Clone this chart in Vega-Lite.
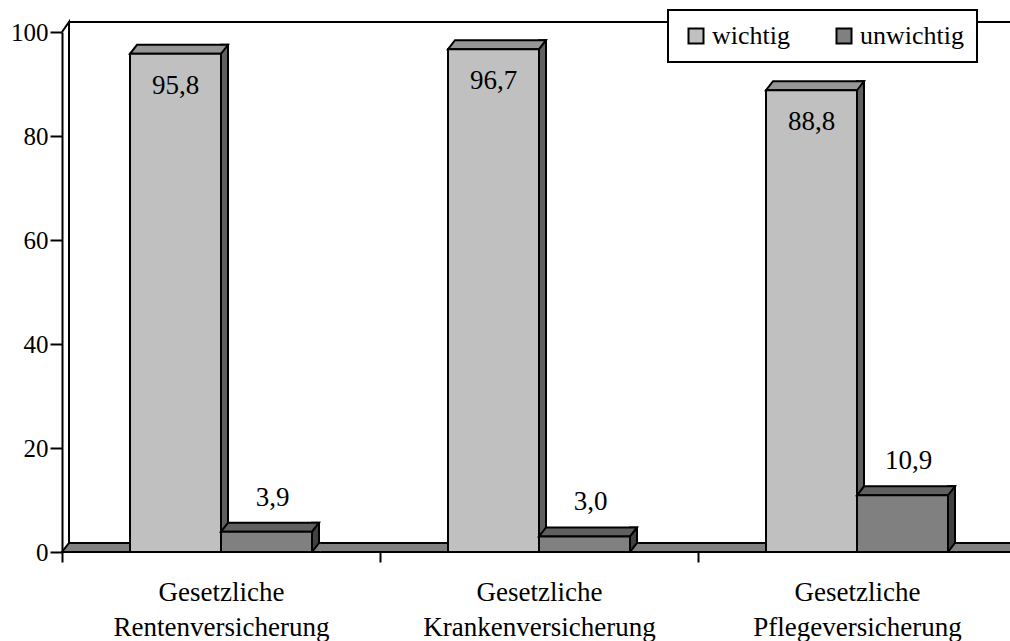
{
  "$schema": "https://vega.github.io/schema/vega-lite/v6.json",
  "autosize": {"type": "none"},
  "padding": {"left": 62, "top": 32, "right": 0, "bottom": 89},
  "width": 948,
  "height": 520,
  "background": "white",
  "data": {"values": [
    {"cat": "Gesetzliche Rentenversicherung", "series": "wichtig", "v": 95.8},
    {"cat": "Gesetzliche Rentenversicherung", "series": "unwichtig", "v": 3.9},
    {"cat": "Gesetzliche Krankenversicherung", "series": "wichtig", "v": 96.7},
    {"cat": "Gesetzliche Krankenversicherung", "series": "unwichtig", "v": 3.0},
    {"cat": "Gesetzliche Pflegeversicherung", "series": "wichtig", "v": 88.8},
    {"cat": "Gesetzliche Pflegeversicherung", "series": "unwichtig", "v": 10.9}
  ]},
  "encoding": {
    "x": {
      "field": "cat", "type": "nominal", "sort": null,
      "scale": {"range": [0, 954], "paddingInner": 0, "paddingOuter": 0},
      "axis": {
        "title": null, "labelAngle": 0,
        "labelExpr": "split(datum.label, ' ')",
        "labelFont": "Liberation Serif", "labelFontSize": 27, "labelColor": "black",
        "labelLineHeight": 35, "labelBaseline": "alphabetic", "labelPadding": 38, "labelLimit": 400,
        "tickBand": "extent", "tickSize": 10, "tickColor": "black", "tickWidth": 2,
        "domain": false
      }
    },
    "y": {
      "field": "v", "type": "quantitative",
      "scale": {"domain": [0, 100], "nice": false},
      "axis": {
        "title": null, "values": [0, 20, 40, 60, 80, 100], "grid": false,
        "domainColor": "black", "domainWidth": 2,
        "tickColor": "black", "tickWidth": 2, "tickSize": 12,
        "labelFont": "Liberation Serif", "labelFontSize": 25, "labelColor": "black", "labelPadding": 2
      }
    }
  },
  "layer": [
    {
      "transform": [{"filter": "datum.series == 'wichtig' && datum.cat == 'Gesetzliche Rentenversicherung'"}],
      "mark": {"type": "point", "shape": "M0,0L0.14,-0.2L0.14,10.22M0.14,-0.2L20,-0.2", "size": 10000, "filled": false, "stroke": "black", "strokeWidth": 2, "opacity": 1},
      "encoding": {"x": {"field": "cat", "type": "nominal", "bandPosition": 0}, "y": {"datum": 100}}
    },
    {
      "transform": [{"filter": "datum.series == 'wichtig' && datum.cat == 'Gesetzliche Rentenversicherung'"}],
      "mark": {"type": "point", "shape": "M0,0L19.5,0L19.64,-0.18L0.14,-0.18Z", "size": 10000, "filled": true, "fill": "#808080", "stroke": "black", "strokeWidth": 2, "opacity": 1},
      "encoding": {"x": {"field": "cat", "type": "nominal", "bandPosition": 0}, "y": {"datum": 0}}
    },
    {
      "transform": [{"filter": "datum.series == 'wichtig'"}],
      "mark": {"type": "bar", "width": 7, "xOffset": 3.5, "yOffset": -9, "y2Offset": -9, "fill": "#606060", "stroke": "black", "strokeWidth": 2},
      "encoding": {"y2": {"datum": 0}}
    },
    {
      "transform": [{"filter": "datum.series == 'wichtig'"}],
      "mark": {"type": "point", "shape": "M-0.91,0L0.91,0L1.05,-0.18L-0.77,-0.18Z", "size": 10000, "xOffset": -45.5, "filled": true, "fill": "#969696", "stroke": "black", "strokeWidth": 2, "opacity": 1}
    },
    {
      "transform": [{"filter": "datum.series == 'wichtig'"}],
      "mark": {"type": "bar", "width": 91, "xOffset": -45.5, "stroke": "black", "strokeWidth": 2},
      "encoding": {
        "y2": {"datum": 0},
        "color": {
          "field": "series", "type": "nominal",
          "scale": {"domain": ["wichtig", "unwichtig"], "range": ["#C0C0C0", "#808080"]},
          "legend": {
            "title": null, "orient": "none", "direction": "horizontal",
            "legendX": 606, "legendY": -22,
            "padding": 13, "symbolOffset": 2, "labelOffset": 3, "columnPadding": 39,
            "fillColor": "white", "strokeColor": "black",
            "symbolType": "square", "symbolSize": 225, "symbolStrokeColor": "black", "symbolStrokeWidth": 2,
            "labelFont": "Liberation Serif", "labelFontSize": 26, "labelColor": "black",
            "encode": {"legend": {"update": {"strokeWidth": {"value": 2}}}}
          }
        }
      }
    },
    {
      "transform": [{"filter": "datum.series == 'unwichtig'"}],
      "mark": {"type": "bar", "width": 7, "xOffset": 94.5, "yOffset": -9, "fill": "#404040", "stroke": "black", "strokeWidth": 2},
      "encoding": {"y2": {"datum": 0}}
    },
    {
      "transform": [{"filter": "datum.series == 'unwichtig'"}],
      "mark": {"type": "point", "shape": "M1.08,0L0.91,0L1.05,-0.18L1.08,-0.18", "size": 10000, "xOffset": 45.5, "filled": true, "fill": "#808080", "stroke": "black", "strokeWidth": 2, "opacity": 1},
      "encoding": {"y": {"datum": 0}}
    },
    {
      "transform": [{"filter": "datum.series == 'unwichtig'"}],
      "mark": {"type": "point", "shape": "M-0.91,0L0.91,0L1.05,-0.18L-0.77,-0.18Z", "size": 10000, "xOffset": 45.5, "filled": true, "fill": "#606060", "stroke": "black", "strokeWidth": 2, "opacity": 1}
    },
    {
      "transform": [{"filter": "datum.series == 'unwichtig'"}],
      "mark": {"type": "bar", "width": 91, "xOffset": 45.5, "stroke": "black", "strokeWidth": 2},
      "encoding": {
        "y2": {"datum": 0},
        "color": {"field": "series", "type": "nominal"}
      }
    },
    {
      "transform": [{"filter": "datum.series == 'wichtig'"}],
      "mark": {"type": "text", "xOffset": -45.5, "dy": 40, "align": "center", "baseline": "alphabetic", "font": "Liberation Serif", "fontSize": 27, "fill": "black"},
      "encoding": {"text": {"field": "v", "type": "quantitative", "format": ".1f"}}
    },
    {
      "transform": [{"filter": "datum.series == 'unwichtig'"}],
      "mark": {"type": "text", "xOffset": 51.5, "dy": -26, "align": "center", "baseline": "alphabetic", "font": "Liberation Serif", "fontSize": 27, "fill": "black"},
      "encoding": {"text": {"field": "v", "type": "quantitative", "format": ".1f"}}
    }
  ],
  "config": {
    "font": "Liberation Serif",
    "text": {"font": "Liberation Serif"},
    "view": {"stroke": null},
    "locale": {"number": {"decimal": ",", "thousands": ".", "grouping": [3], "currency": ["", " €"]}}
  }
}
